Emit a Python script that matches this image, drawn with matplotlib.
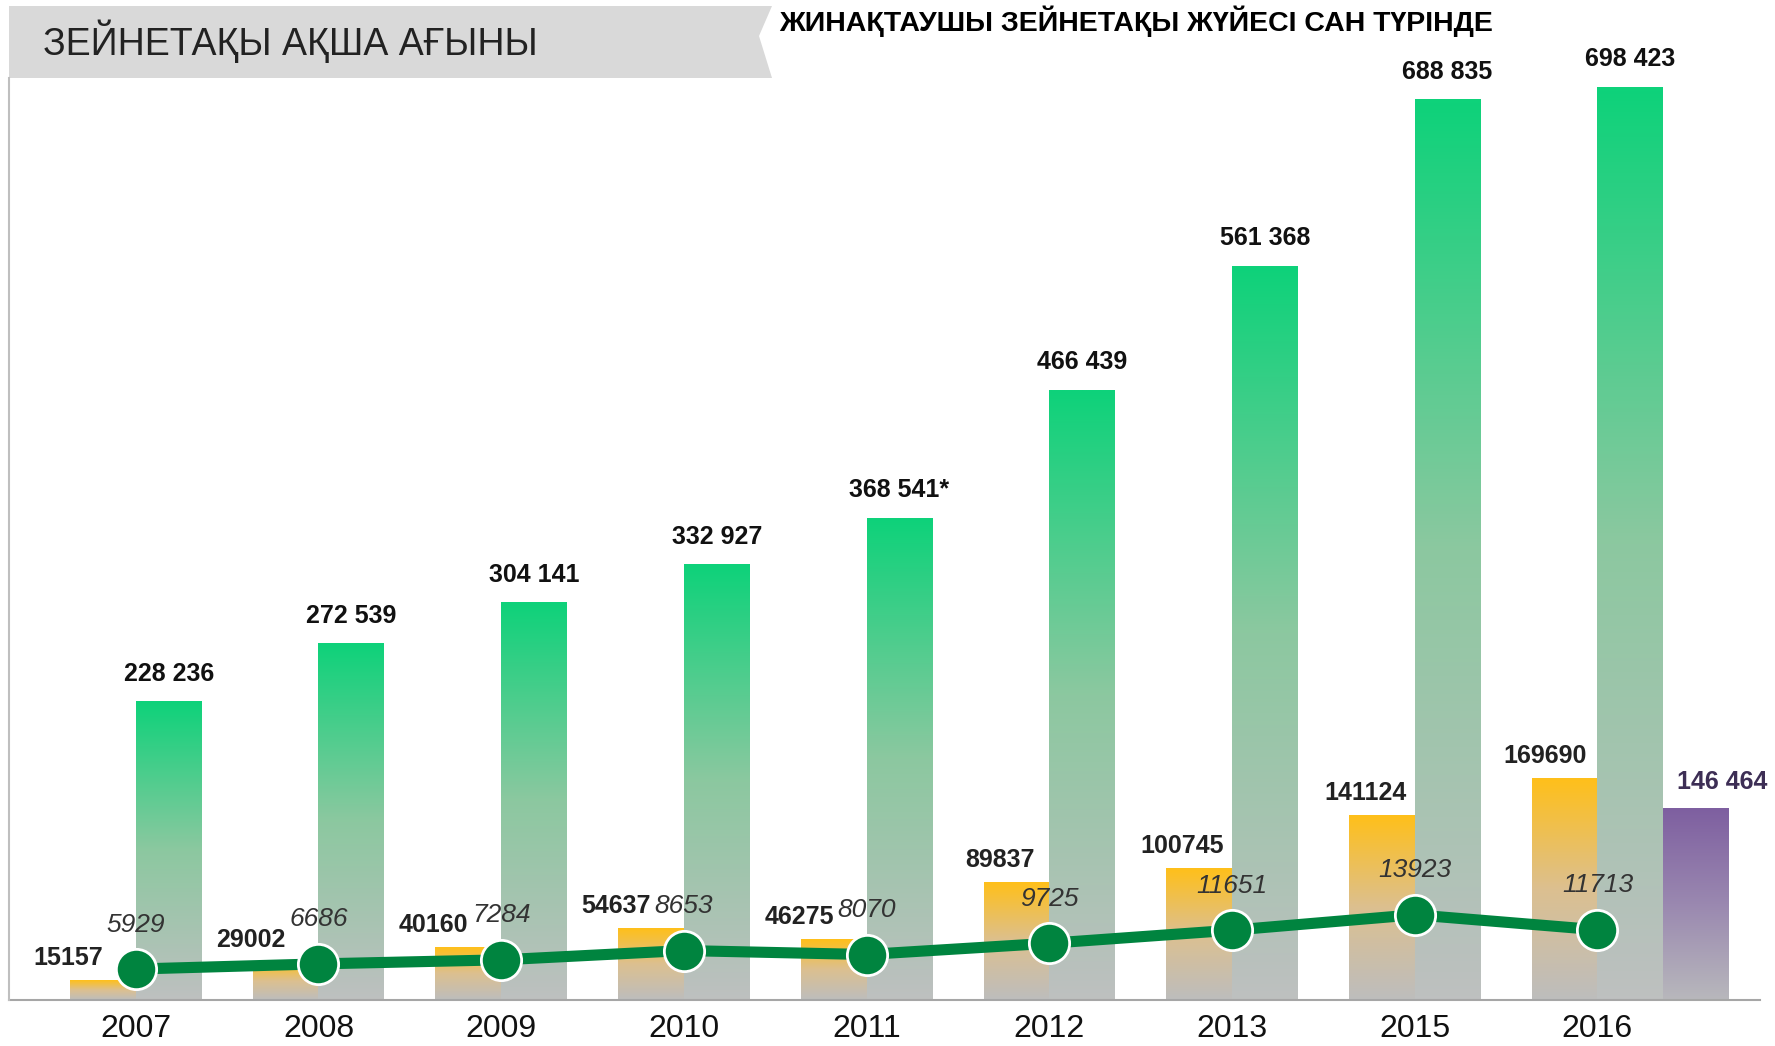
import numpy as np
import matplotlib
matplotlib.use('Agg')
import matplotlib.pyplot as plt
from matplotlib import font_manager
from matplotlib.colors import LinearSegmentedColormap
from matplotlib.patches import Polygon
from matplotlib.lines import Line2D

# data
years = ['2007', '2008', '2009', '2010', '2011', '2012', '2013', '2015', '2016']
total = [228236, 272539, 304141, 332927, 368541, 466439, 561368, 688835, 698423]
total_note = ['', '', '', '', '*', '', '', '', '']
flow = [15157, 29002, 40160, 54637, 46275, 89837, 100745, 141124, 169690]
count = [5929, 6686, 7284, 8653, 8070, 9725, 11651, 13923, 11713]
extra_2016 = 146464

title_left = 'ЗЕЙНЕТАҚЫ АҚША АҒЫНЫ'
title_right = 'ЖИНАҚТАУШЫ ЗЕЙНЕТАҚЫ ЖҮЙЕСІ САН ТҮРІНДЕ'

# label nudges (points) for the orange values so they clear the line labels
flow_dx = [-25, -25, -25, -25, -25, -12, -12, -12, -14]


def has_font(name):
    try:
        font_manager.findfont(font_manager.FontProperties(family=name), fallback_to_default=False)
        return True
    except Exception:
        return False


narrow = has_font('Liberation Sans Narrow')
cond = 'Liberation Sans Narrow' if narrow else 'Liberation Sans'
plt.rcParams['font.family'] = ['Liberation Sans', 'DejaVu Sans']

W, H = 1775, 1046
fig = plt.figure(figsize=(W / 100, H / 100), dpi=100)
ax = fig.add_axes([9 / W, 46 / H, (1760 - 9) / W, 1000 / H])
ax2 = ax.twinx()

x = np.arange(len(years))
bw = 0.36

green_cm = LinearSegmentedColormap.from_list('g', ['#BEC0C0', '#8CC8A0', '#0ED27A'])
orange_cm = LinearSegmentedColormap.from_list('o', ['#BDBDBD', '#DCC090', '#FFBF1A'])
purple_cm = LinearSegmentedColormap.from_list('p', ['#B8B8BC', '#9A88B0', '#7E5FA0'])
grad = np.linspace(0, 1, 256).reshape(-1, 1)


def gradient_bars(bars, cmap):
    for b in bars:
        x0, y0 = b.get_x(), b.get_y()
        ax.imshow(grad, cmap=cmap, origin='lower', aspect='auto', zorder=2,
                  extent=[x0, x0 + b.get_width(), y0, y0 + b.get_height()])


ob = ax.bar(x - bw / 2, flow, bw, color='none', zorder=1)
gb = ax.bar(x + bw / 2, total, bw, color='none', zorder=1)
pb = ax.bar([x[-1] + 1.5 * bw], [extra_2016], bw, color='none', zorder=1)
gradient_bars(ob, orange_cm)
gradient_bars(gb, green_cm)
gradient_bars(pb, purple_cm)

ax.set_xlim(-0.694, 8.89)
ax.set_ylim(0, 765000)
ax2.set_ylim(1370, 148640)

for i, v in enumerate(total):
    ax.annotate(f'{v:,}'.replace(',', ' ') + total_note[i], (x[i] + bw / 2, v),
                xytext=(0, 20), textcoords='offset points', ha='center', va='center',
                fontsize=18, fontweight='bold', color='#111111', zorder=5)
for i, v in enumerate(flow):
    ax.annotate(str(v), (x[i] - bw / 2, v), xytext=(flow_dx[i], 16),
                textcoords='offset points', ha='center', va='center',
                fontsize=18, fontweight='bold', color='#222222', zorder=5)
ax.annotate(f'{extra_2016:,}'.replace(',', ' '), (x[-1] + 1.5 * bw, extra_2016),
            xytext=(19, 19), textcoords='offset points', ha='center', va='center',
            fontsize=18, fontweight='bold', color='#3D2E55', zorder=5)

ax2.plot(x, count, color='#00843F', lw=8, marker='o', ms=29,
         mfc='#00843F', mec='white', mew=2, zorder=4, solid_capstyle='butt')
for i, v in enumerate(count):
    ax2.annotate(str(v), (x[i], v), xytext=(0, 32), textcoords='offset points',
                 ha='center', va='center', fontsize=19, fontstyle='italic',
                 color='#333333')

ax.set_xticks(x)
ax.set_xticklabels(years, fontsize=26 if narrow else 23, family=cond, color='#111111')
ax.tick_params(axis='x', length=0, pad=10)
ax.set_yticks([])
ax2.set_yticks([])
for a in (ax, ax2):
    for s in a.spines.values():
        s.set_visible(False)
ax.patch.set_visible(False)

# frame lines and title ribbon in pixel coordinates
px = lambda xx, yy: (xx / W, 1 - yy / H)
fig.add_artist(Line2D([9 / W, 1760 / W], [1 - 1000 / H] * 2, color='#A6A6A6', lw=1.5))
fig.add_artist(Line2D([9 / W] * 2, [1 - 1000 / H, 1 - 78 / H], color='#BFBFBF', lw=1.5))
ribbon = Polygon([px(9, 6), px(772, 6), px(759, 36), px(772, 78), px(9, 78)],
                 closed=True, transform=fig.transFigure, facecolor='#D9D9D9',
                 edgecolor='none')
fig.add_artist(ribbon)
fig.text(43 / W, 1 - 41 / H, title_left, family=cond, fontsize=31 if narrow else 27,
         color='#222222', ha='left', va='center')
fig.text(779 / W, 1 - 21 / H, title_right, family=cond, fontsize=25 if narrow else 20.5,
         fontweight='bold', color='#000000', ha='left', va='center')

fig.savefig('out.png', dpi=100)
